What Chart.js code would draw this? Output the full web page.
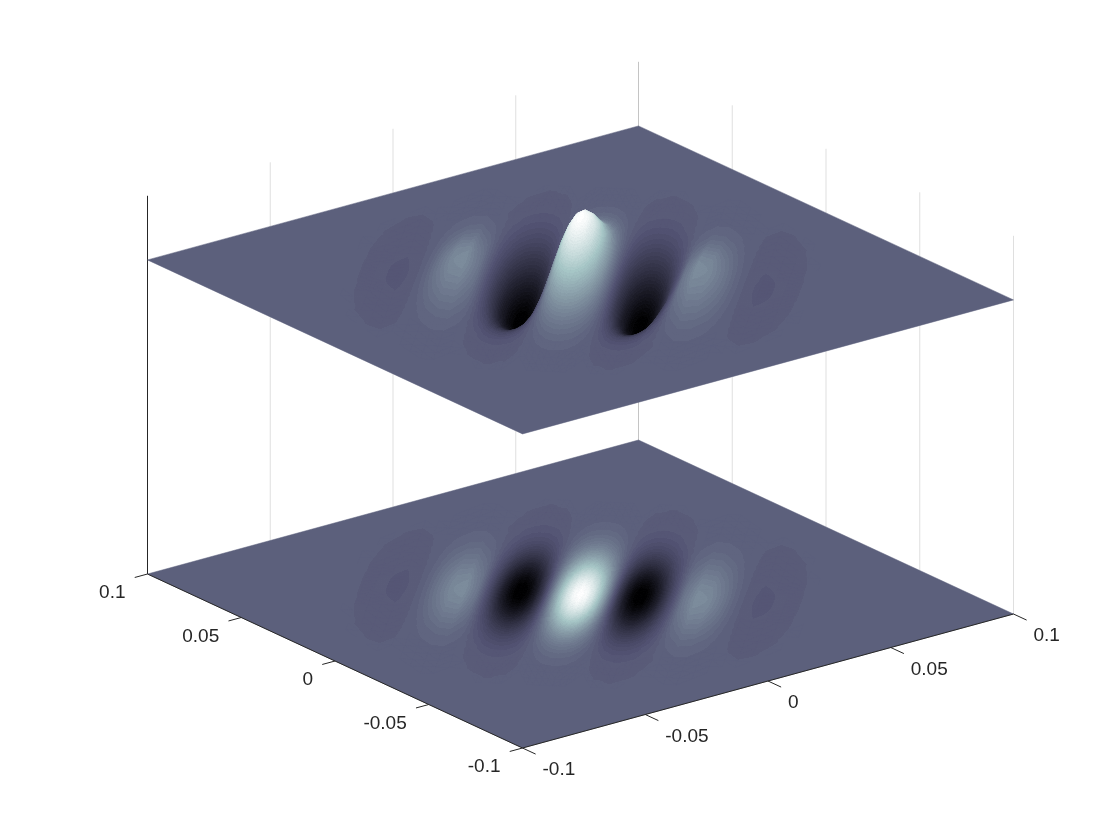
<!DOCTYPE html>
<html>
<head>
<meta charset="utf-8">
<title>Surface with contour plane</title>
<script src="https://cdn.jsdelivr.net/npm/chart.js@4"></script>
<style>
  html, body { margin: 0; padding: 0; background: #fff; }
  canvas { display: block; }
</style>
</head>
<body>
<canvas id="myChart" width="1120" height="840"></canvas>
<script>
// axis ticks
const uTicks = [-0.1, -0.05, 0, 0.05, 0.1];
const vTicks = [-0.1, -0.05, 0, 0.05, 0.1];
const tickLabels = ['-0.1', '-0.05', '0', '0.05', '0.1'];
const zLimits = [-4.9, 1];
const floorLevel = -4.9;

// surface samples, across the ridges (s) and along them (t)
const sSamples = [0, 0.00209, 0.00418, 0.00627, 0.00836, 0.01045, 0.01254, 0.01463, 0.01672, 0.01881, 0.0209, 0.02299, 0.02508, 0.02926, 0.03344, 0.03762, 0.0418, 0.04598, 0.05016, 0.05434, 0.05852, 0.0627, 0.06688, 0.07106, 0.07524];
const tSamples = [0, 0.003, 0.006, 0.009, 0.012, 0.015, 0.018, 0.024, 0.03, 0.036, 0.042, 0.048, 0.054, 0.06, 0.066, 0.072, 0.078, 0.084];
// one quadrant, the lobes repeat mirrored about the centre. values x 1000
const surfaceRows = [
  [1000, 948, 797, 569, 292, 0, -271, -492, -641, -708, -695, -612, -479, -151, 122, 249, 233, 139, 38, -22, -37, -31, -16, -5, 3],
  [992, 941, 791, 565, 290, 0, -269, -488, -636, -702, -690, -607, -475, -150, 121, 247, 231, 138, 38, -22, -37, -31, -16, -5, 3],
  [969, 919, 772, 551, 283, 0, -263, -477, -621, -686, -674, -593, -464, -146, 118, 241, 226, 135, 37, -21, -36, -30, -16, -5, 3],
  [932, 884, 743, 530, 272, 0, -253, -459, -598, -660, -648, -571, -447, -141, 114, 232, 217, 130, 35, -21, -34, -29, -15, -5, 3],
  [883, 837, 703, 502, 258, 0, -239, -434, -566, -625, -613, -540, -423, -133, 108, 220, 206, 123, 34, -19, -33, -27, -14, -4, 3],
  [823, 780, 656, 468, 240, 0, -223, -405, -527, -582, -572, -503, -394, -124, 100, 205, 192, 114, 31, -18, -30, -25, -13, -4, 2],
  [755, 716, 602, 429, 220, 0, -205, -371, -484, -534, -525, -462, -362, -114, 92, 188, 176, 105, 29, -17, -28, -23, -12, -4, 2],
  [607, 575, 483, 345, 177, 0, -164, -298, -389, -429, -422, -371, -291, -92, 74, 151, 141, 84, 23, -13, -22, -19, -10, -3, 2],
  [458, 434, 365, 260, 134, 0, -124, -225, -293, -324, -318, -280, -219, -69, 56, 114, 107, 64, 17, -10, -17, -14, -7, -2, 1],
  [325, 308, 259, 185, 95, 0, -88, -160, -208, -230, -226, -199, -156, -49, 40, 81, 76, 45, 12, -7, -12, -10, -5, -2, 1],
  [216, 205, 172, 123, 63, 0, -59, -106, -139, -153, -150, -132, -104, -33, 26, 54, 50, 30, 8, -5, -8, -7, -3, -1, 1],
  [135, 128, 108, 77, 40, 0, -37, -67, -87, -96, -94, -83, -65, -20, 17, 34, 32, 19, 5, -3, -5, -4, -2, -1, 0],
  [80, 75, 63, 45, 23, 0, -22, -39, -51, -56, -55, -49, -38, -12, 10, 20, 19, 11, 3, -2, -3, -2, -1, 0, 0],
  [44, 42, 35, 25, 13, 0, -12, -22, -28, -31, -31, -27, -21, -7, 5, 11, 10, 6, 2, -1, -2, -1, -1, 0, 0],
  [23, 22, 18, 13, 7, 0, -6, -11, -15, -16, -16, -14, -11, -3, 3, 6, 5, 3, 1, -1, -1, -1, 0, 0, 0],
  [11, 11, 9, 6, 3, 0, -3, -5, -7, -8, -8, -7, -5, -2, 1, 3, 3, 2, 0, 0, -1, 0, 0, 0, 0],
  [5, 5, 4, 3, 1, 0, -1, -3, -3, -4, -4, -3, -2, -1, 1, 1, 1, 1, 0, 0, 0, 0, 0, 0, 0],
  [2, 2, 2, 1, 1, 0, -1, -1, -1, -2, -2, -1, -1, 0, 0, 0, 0, 0, 0, 0, 0, 0, 0, 0, 0],
];
const colorLimits = [-0.69, 1];

// view: where the box lands on the x/y scales of the chart
function project(u, v, z) {
  return {
    x: 580.5 + u * 2455 - v * 1875,
    y: 594 - u * 670 - v * 870 - (z - floorLevel) * 64.1,
  };
}

// bone colormap, 64 levels
const LEVELS = 64;
function boneColor(i) {
  const g = i / (LEVELS - 1);
  const hr = Math.min(1, (i + 1) / 24);
  const hg = Math.max(0, Math.min(1, (i + 1 - 24) / 24));
  const hb = Math.max(0, Math.min(1, (i + 1 - 48) / 16));
  const r = (7 * g + hb) / 8;
  const gr = (7 * g + hg) / 8;
  const b = (7 * g + hr) / 8;
  return 'rgb(' + Math.round(r * 255) + ',' + Math.round(gr * 255) + ',' + Math.round(b * 255) + ')';
}
function levelOf(val) {
  const f = (val - colorLimits[0]) / (colorLimits[1] - colorLimits[0]);
  return Math.max(0, Math.min(LEVELS - 1, Math.floor(f * LEVELS)));
}
function levelEdge(i) {
  return colorLimits[0] + (i / LEVELS) * (colorLimits[1] - colorLimits[0]);
}

// gradient that follows the value over one triangle
function triangleFill(context) {
  const ds = context.dataset;
  if (ds.cached) return ds.cached;
  const chart = context.chart;
  const sx = chart.scales.x;
  const sy = chart.scales.y;
  const flat = boneColor(levelOf((ds.values[0] + ds.values[1] + ds.values[2]) / 3));
  const p = [0, 1, 2].map(function (i) {
    return { x: sx.getPixelForValue(ds.data[i].x), y: sy.getPixelForValue(ds.data[i].y), val: ds.values[i] };
  });
  // scales are not laid out yet on the first pass
  if (!isFinite(p[0].x) || !isFinite(p[0].y)) return flat;
  p.sort(function (a, b) { return a.val - b.val; });
  const lo = p[0].val;
  const hi = p[2].val;
  const dx1 = p[1].x - p[0].x, dy1 = p[1].y - p[0].y, dv1 = p[1].val - lo;
  const dx2 = p[2].x - p[0].x, dy2 = p[2].y - p[0].y, dv2 = hi - lo;
  const det = dx1 * dy2 - dx2 * dy1;
  if (Math.abs(det) < 0.01 || levelOf(lo) === levelOf(hi)) {
    ds.cached = flat;
    return flat;
  }
  const a = (dv1 * dy2 - dv2 * dy1) / det;
  const b = (dv2 * dx1 - dv1 * dx2) / det;
  const k = (hi - lo) / (a * a + b * b);
  const grad = chart.ctx.createLinearGradient(p[0].x, p[0].y, p[0].x + a * k, p[0].y + b * k);
  for (let i = levelOf(lo); i <= levelOf(hi); i++) {
    const from = Math.max(0, (levelEdge(i) - lo) / (hi - lo));
    const to = Math.min(1, (levelEdge(i + 1) - lo) / (hi - lo));
    grad.addColorStop(from, boneColor(i));
    grad.addColorStop(to, boneColor(i));
  }
  ds.cached = grad;
  return grad;
}

// whole grid, mirrored out of the quadrant
const sAll = sSamples.slice(1).reverse().map(function (s) { return -s; }).concat(sSamples);
const tAll = tSamples.slice(1).reverse().map(function (t) { return -t; }).concat(tSamples);
function gridValue(j, k) {
  return surfaceRows[Math.abs(j - (tSamples.length - 1))][Math.abs(k - (sSamples.length - 1))] / 1000;
}
function toPlate(j, k) {
  return { u: (sAll[k] + tAll[j]) / Math.SQRT2, v: (tAll[j] - sAll[k]) / Math.SQRT2, val: gridValue(j, k) };
}

function lineSet(a, b, color, width) {
  return { data: [a, b], borderColor: color, borderWidth: width, fill: false };
}
function plateSet(z) {
  const c = boneColor(levelOf(0));
  const pts = [[-0.1, -0.1], [0.1, -0.1], [0.1, 0.1], [-0.1, 0.1], [-0.1, -0.1]].map(function (q) {
    return project(q[0], q[1], z);
  });
  return { data: pts, backgroundColor: c, borderColor: c, borderWidth: 0.5, fill: 'shape' };
}
function surfaceTriangles(flat) {
  const tris = [];
  function add(a, b, c) {
    if (Math.abs(a.val) <= 0.002 && Math.abs(b.val) <= 0.002 && Math.abs(c.val) <= 0.002) return;
    const z = function (q) { return flat ? floorLevel : q.val; };
    const pts = [a, b, c, a].map(function (q) { return project(q.u, q.v, z(q)); });
    tris.push({
      depth: 134 * (a.u + b.u + c.u) + 174 * (a.v + b.v + c.v),
      data: pts,
      values: [a.val, b.val, c.val],
      backgroundColor: triangleFill,
      borderColor: triangleFill,
      borderWidth: 0.8,
      fill: 'shape',
    });
  }
  for (let j = 0; j < tAll.length - 1; j++) {
    for (let k = 0; k < sAll.length - 1; k++) {
      const p00 = toPlate(j, k), p01 = toPlate(j, k + 1), p10 = toPlate(j + 1, k), p11 = toPlate(j + 1, k + 1);
      if (Math.abs(p00.val - p11.val) < Math.abs(p01.val - p10.val)) {
        add(p00, p01, p11);
        add(p00, p11, p10);
      } else {
        add(p00, p01, p10);
        add(p01, p11, p10);
      }
    }
  }
  tris.sort(function (a, b) { return b.depth - a.depth; });
  return tris;
}

// build in paint order, back to front
let paint = [];
const gridColor = 'rgba(38,38,38,0.15)';
const axisColor = '#262626';
uTicks.forEach(function (u) {
  paint.push(lineSet(project(u, 0.1, zLimits[0]), project(u, 0.1, zLimits[1]), gridColor, 1));
});
vTicks.forEach(function (v) {
  paint.push(lineSet(project(0.1, v, zLimits[0]), project(0.1, v, zLimits[1]), gridColor, 1));
});
paint.push(lineSet(project(-0.1, 0.1, zLimits[0]), project(-0.1, 0.1, zLimits[1]), axisColor, 1));
paint.push(plateSet(floorLevel));
paint = paint.concat(surfaceTriangles(true));
paint.push(lineSet(project(-0.1, 0.1, floorLevel), project(-0.1, -0.1, floorLevel), axisColor, 1));
paint.push(lineSet(project(-0.1, -0.1, floorLevel), project(0.1, -0.1, floorLevel), axisColor, 1));
vTicks.forEach(function (v) {
  paint.push(lineSet(project(-0.1, v, floorLevel), project(-0.1052, v, floorLevel), axisColor, 1));
});
uTicks.forEach(function (u) {
  paint.push(lineSet(project(u, -0.1, floorLevel), project(u, -0.107, floorLevel), axisColor, 1));
});
paint.push(plateSet(0));
paint = paint.concat(surfaceTriangles(false));

// tick labels
const tickText = {
  id: 'tickText',
  afterDatasetsDraw: function (chart) {
    const ctx = chart.ctx;
    const sx = chart.scales.x;
    const sy = chart.scales.y;
    ctx.save();
    ctx.font = '19px "Liberation Sans", Arial, sans-serif';
    ctx.fillStyle = axisColor;
    ctx.textBaseline = 'middle';
    ctx.textAlign = 'right';
    vTicks.forEach(function (v, i) {
      const p = project(-0.1, v, floorLevel);
      ctx.fillText(tickLabels[i], sx.getPixelForValue(p.x) - 22, sy.getPixelForValue(p.y) + 19);
    });
    ctx.textAlign = 'left';
    uTicks.forEach(function (u, i) {
      const p = project(u, -0.1, floorLevel);
      ctx.fillText(tickLabels[i], sx.getPixelForValue(p.x) + 20, sy.getPixelForValue(p.y) + 22);
    });
    ctx.restore();
  },
};

// first dataset is painted last by chart.js
const myChart = new Chart(document.getElementById('myChart'), {
  type: 'scatter',
  data: { datasets: paint.reverse() },
  options: {
    responsive: false,
    animation: false,
    events: [],
    layout: { padding: 0 },
    datasets: { scatter: { showLine: true, pointRadius: 0, tension: 0, clip: false } },
    scales: {
      x: { type: 'linear', min: 0, max: 1120, display: false },
      y: { type: 'linear', min: 0, max: 840, reverse: true, display: false },
    },
    plugins: { legend: { display: false }, tooltip: { enabled: false } },
  },
  plugins: [tickText],
});
</script>
</body>
</html>
